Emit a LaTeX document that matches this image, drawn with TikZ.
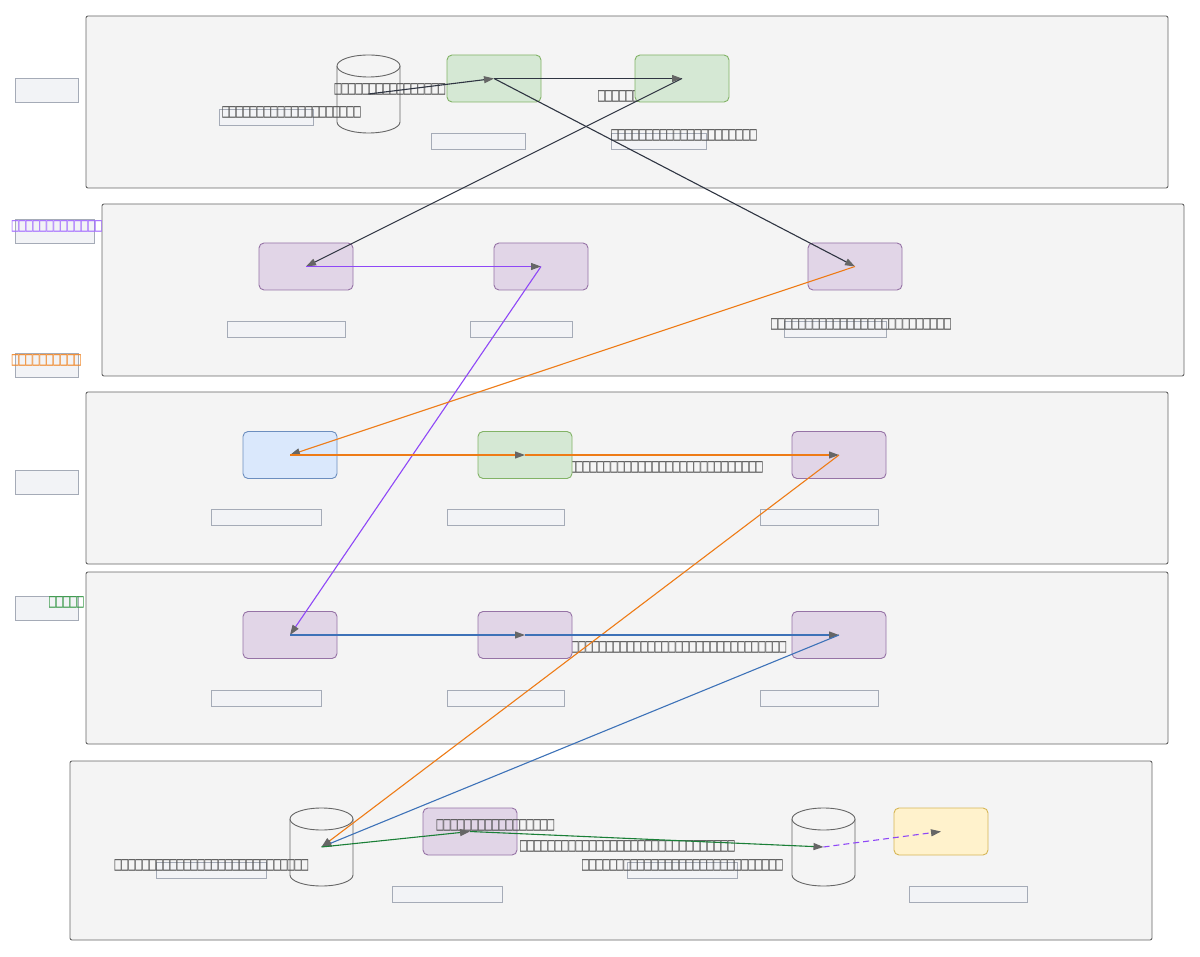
\documentclass[tikz,border=0pt]{standalone}
\usepackage{fontspec}
\usepackage{graphicx}
\newfontfamily\tofufont{DejaVu Sans Mono}
\usetikzlibrary{arrows.meta}
\definecolor{sgfill}{HTML}{F4F4F4}
\definecolor{sgdraw}{HTML}{666666}
\definecolor{lblfill}{HTML}{F2F3F6}
\definecolor{lbldraw}{HTML}{A5ABB7}
\definecolor{txtgray}{HTML}{555555}
\definecolor{tipgray}{HTML}{666666}
\definecolor{gfill}{HTML}{D5E8D4}
\definecolor{gdraw}{HTML}{82B366}
\definecolor{pfill}{HTML}{E1D5E7}
\definecolor{pdraw}{HTML}{9673A6}
\definecolor{bfill}{HTML}{DAE8FC}
\definecolor{bdraw}{HTML}{6C8EBF}
\definecolor{yfill}{HTML}{FFF2CC}
\definecolor{ydraw}{HTML}{D6B656}
\definecolor{edark}{HTML}{2F3542}
\definecolor{epurple}{HTML}{8E47F7}
\definecolor{eorange}{HTML}{EE7B16}
\definecolor{eblue}{HTML}{3D72B8}
\definecolor{egreen}{HTML}{1A7F37}
\definecolor{tpurple}{HTML}{A36BFF}
\definecolor{torange}{HTML}{F0882A}
\definecolor{tgreen}{HTML}{3A9A4A}
\newcommand\cylpath[1]{%
  \filldraw[cylst] ([yshift=-11pt]#1.north west) -- ([yshift=11pt]#1.south west)
     arc[start angle=180,end angle=360,x radius=31.5pt,y radius=11pt]
     -- ([yshift=-11pt]#1.north east)
     arc[start angle=0,end angle=180,x radius=31.5pt,y radius=11pt] -- cycle;
  \draw[cylst] ([yshift=-11pt]#1.north west) arc[start angle=180,end angle=360,x radius=31.5pt,y radius=11pt];
}
\newcommand\tofutext[1]{\scalebox{1}[1.7]{#1}}
\begin{document}
\begin{tikzpicture}[x=1pt,y=-1pt,
  sg/.style={draw=sgdraw, fill=sgfill, rounded corners=2pt, line width=0.9pt, inner sep=0pt, outer sep=0pt, anchor=north west},
  lbl/.style={draw=lbldraw, fill=lblfill, line width=0.9pt, inner sep=0pt, outer sep=0pt, anchor=north west},
  nd/.style={rounded corners=5pt, minimum width=94pt, minimum height=47pt, line width=0.9pt, inner sep=0pt},
  gn/.style={nd, fill=gfill, draw=gdraw},
  pn/.style={nd, fill=pfill, draw=pdraw},
  bn/.style={nd, fill=bfill, draw=bdraw},
  yn/.style={nd, fill=yfill, draw=ydraw},
  cyl/.style={minimum width=63pt, minimum height=78pt, inner sep=0pt, outer sep=0pt},
  cylst/.style={draw=sgdraw, fill=sgfill, line width=0.9pt},
  txt/.style={font=\tofufont\fontsize{11.5}{12}\selectfont, text=txtgray, inner sep=0pt, yshift=-1pt},
  e/.style={line width=1.1pt, -{Triangle[length=10pt,width=7pt,color=tipgray,fill=tipgray]}}
]
\useasboundingbox (0,0) rectangle (1200,957);
\fill[white] (0,0) rectangle (1200,957);

% subgraphs
\node[sg, minimum width=1082pt, minimum height=172pt] (sg1) at (86,16) {};
\node[sg, minimum width=1082pt, minimum height=172pt] (sg2) at (102,204) {};
\node[sg, minimum width=1082pt, minimum height=172pt] (sg3) at (86,392) {};
\node[sg, minimum width=1082pt, minimum height=172pt] (sg4) at (86,572) {};
\node[sg, minimum width=1082pt, minimum height=179pt] (sg5) at (70,761) {};

% left title boxes
\node[lbl, minimum width=63pt, minimum height=24pt] (t1) at (15,78) {};
\node[lbl, minimum width=79pt, minimum height=24pt] (t2) at (15,219) {};
\node[lbl, minimum width=63pt, minimum height=24pt] (t3) at (15,353) {};
\node[lbl, minimum width=63pt, minimum height=24pt] (t4) at (15,470) {};
\node[lbl, minimum width=63pt, minimum height=24pt] (t5) at (15,596) {};
\node[txt, text=tpurple] (tt2) at (57,225.5) {\tofutext{□□□□□□□□□□□□□}};
\node[txt, text=torange] (tt3) at (46.5,359) {\tofutext{□□□□□□□□□□}};
\node[txt, text=tgreen] (tt5) at (66.5,601.5) {\tofutext{□□□□□}};

% node label boxes
\node[lbl, minimum width=94pt, minimum height=16pt] (n11) at (219,109) {};
\node[lbl, minimum width=94pt, minimum height=16pt] (n12) at (431,133) {};
\node[lbl, minimum width=95pt, minimum height=16pt] (n13) at (611,133) {};
\node[lbl, minimum width=118pt, minimum height=16pt] (n21) at (227,321) {};
\node[lbl, minimum width=102pt, minimum height=16pt] (n22) at (470,321) {};
\node[lbl, minimum width=102pt, minimum height=16pt] (n23) at (784,321) {};
\node[lbl, minimum width=110pt, minimum height=16pt] (n31) at (211,509) {};
\node[lbl, minimum width=117pt, minimum height=16pt] (n32) at (447,509) {};
\node[lbl, minimum width=118pt, minimum height=16pt] (n33) at (760,509) {};
\node[lbl, minimum width=110pt, minimum height=16pt] (n41) at (211,690) {};
\node[lbl, minimum width=117pt, minimum height=16pt] (n42) at (447,690) {};
\node[lbl, minimum width=118pt, minimum height=16pt] (n43) at (760,690) {};
\node[lbl, minimum width=110pt, minimum height=16pt] (n51) at (156,862) {};
\node[lbl, minimum width=110pt, minimum height=16pt] (n52) at (392,886) {};
\node[lbl, minimum width=110pt, minimum height=16pt] (n53) at (627,862) {};
\node[lbl, minimum width=118pt, minimum height=16pt] (n54) at (909,886) {};

% edge labels lying under nodes
\node[txt] (L6) at (666,466) {\tofutext{□□□□□□□□□□□□□□□□□□□□□□□□□□□□}};
\node[txt] (L7) at (679,646) {\tofutext{□□□□□□□□□□□□□□□□□□□□□□□□□□□□□□□}};
\node[txt] (L3) at (619,95) {\tofutext{□□□□□□}};

% nodes
\node[cyl] (c1) at (368.5,94) {};
\cylpath{c1}
\node[gn] (g1) at (494,78.5) {};
\node[gn] (g2) at (682,78.5) {};
\node[pn] (p21) at (306,266.5) {};
\node[pn] (p22) at (541,266.5) {};
\node[pn] (p23) at (855,266.5) {};
\node[bn] (b31) at (290,455) {};
\node[gn] (g32) at (525,455) {};
\node[pn] (p33) at (839,455) {};
\node[pn] (p41) at (290,635) {};
\node[pn] (p42) at (525,635) {};
\node[pn] (p43) at (839,635) {};
\node[cyl] (c51) at (321.5,847) {};
\cylpath{c51}
\node[pn] (p52) at (470,831.5) {};
\node[cyl] (c53) at (823.5,847) {};
\cylpath{c53}
\node[yn] (y54) at (941,831.5) {};

% edge labels
\node[txt] (L1) at (390,88) {\tofutext{□□□□□□□□□□□□□□□□}};
\node[txt] (L2) at (291.5,111) {\tofutext{□□□□□□□□□□□□□□□□□□□□}};
\node[txt] (L4) at (684,134) {\tofutext{□□□□□□□□□□□□□□□□□□□□□}};
\node[txt] (L5) at (861,323) {\tofutext{□□□□□□□□□□□□□□□□□□□□□□□□□□}};
\node[txt] (L8) at (211.5,864) {\tofutext{□□□□□□□□□□□□□□□□□□□□□□□□□□□□}};
\node[txt] (L9) at (495.5,824) {\tofutext{□□□□□□□□□□□□□□□□□}};
\node[txt] (L10) at (627.5,845) {\tofutext{□□□□□□□□□□□□□□□□□□□□□□□□□□□□□□□}};
\node[txt] (L11) at (682.5,864) {\tofutext{□□□□□□□□□□□□□□□□□□□□□□□□□□□□□}};

% edges
\draw[e, edark] (c1.center) -- (g1.center);
\draw[e, edark] (g1.center) -- (g2.center);
\draw[e, edark] (g2.center) -- (p21.center);
\draw[e, edark] (g1.center) -- (p23.center);
\draw[e, epurple] (p21.center) -- (p22.center);
\draw[e, epurple] (p22.center) -- (p41.center);
\draw[e, eorange] (p23.center) -- (b31.center);
\draw[e, eorange] (b31.center) -- (g32.center);
\draw[e, eorange] (g32.center) -- (p33.center);
\draw[e, eorange] (p33.center) -- (c51.center);
\draw[e, eblue] (p41.center) -- (p42.center);
\draw[e, eblue] (p42.center) -- (p43.center);
\draw[e, eblue] (p43.center) -- (c51.center);
\draw[e, egreen] (c51.center) -- (p52.center);
\draw[e, egreen] (p52.center) -- (c53.center);
\draw[e, epurple, dashed, dash pattern=on 6pt off 4pt] (c53.center) -- (y54.center);
\end{tikzpicture}
\end{document}
